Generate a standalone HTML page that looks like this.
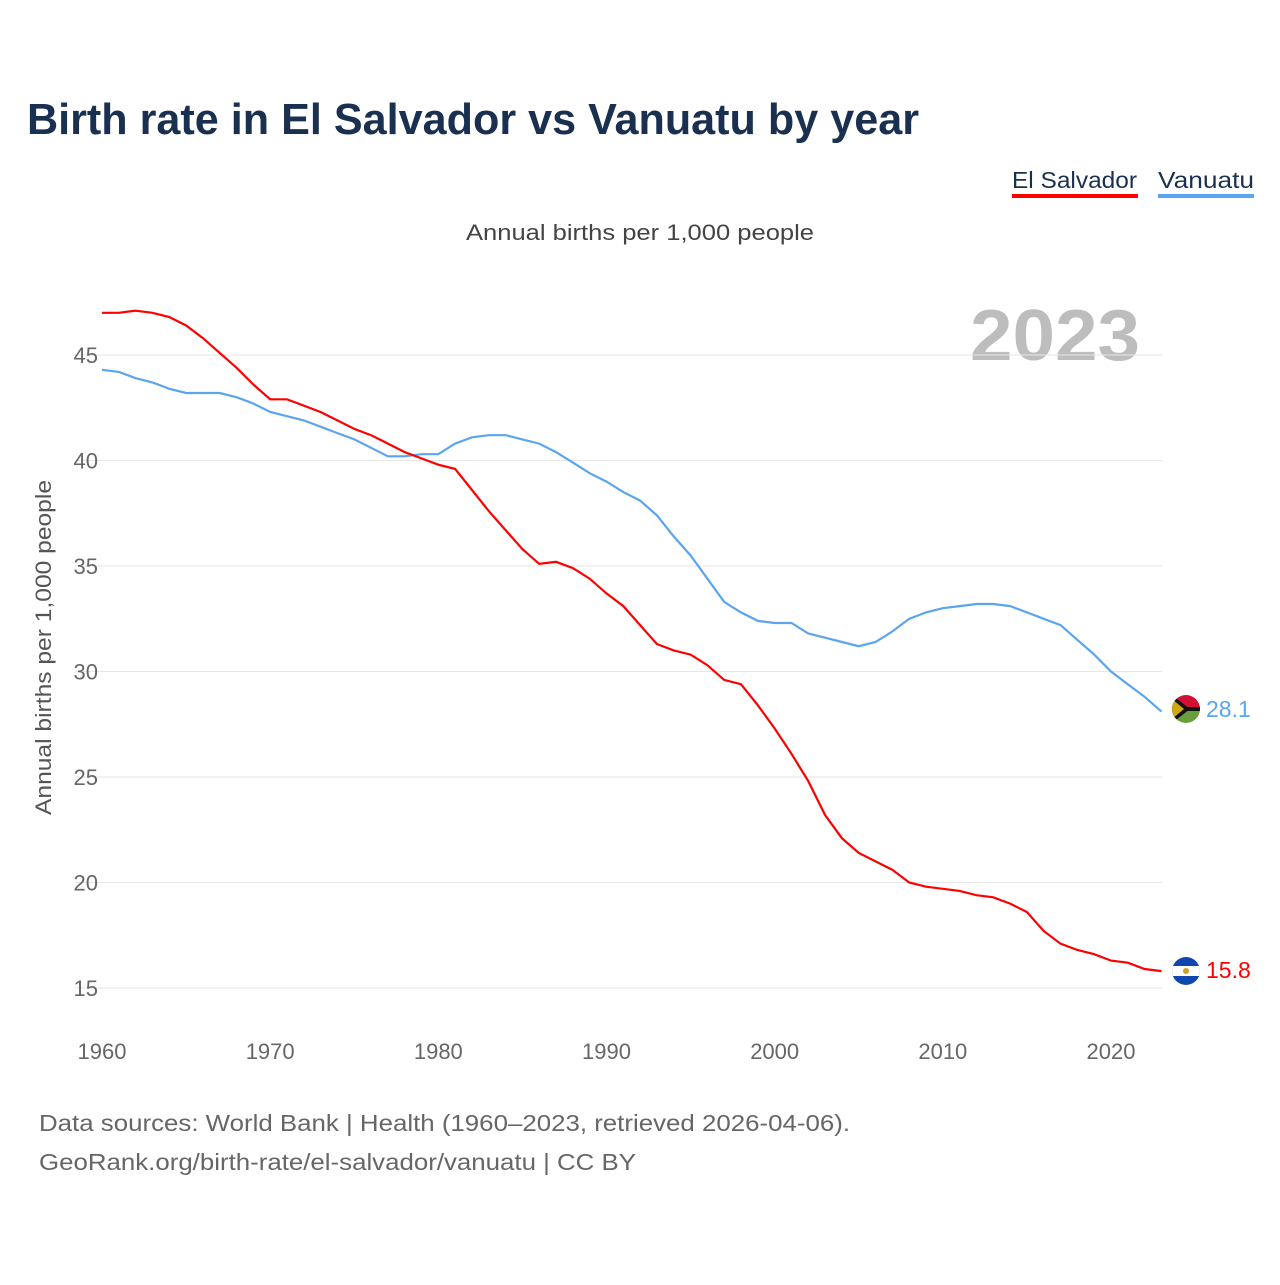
<!DOCTYPE html>
<html><head><meta charset="utf-8">
<style>
body{margin:0;background:#fff;font-family:"Liberation Sans",sans-serif;}
#wrap{position:relative;width:1280px;height:1280px;}
svg text{font-family:"Liberation Sans",sans-serif;}
</style></head>
<body>
<div id="wrap">
<svg id="chart" width="1280" height="1280">
<text x="27" y="134" font-size="44" font-weight="bold" fill="#1a3050" textLength="892" lengthAdjust="spacingAndGlyphs">Birth rate in El Salvador vs Vanuatu by year</text>
<g>
<text x="1012" y="188" font-size="23" fill="#1a3050" textLength="125" lengthAdjust="spacingAndGlyphs">El Salvador</text>
<rect x="1012" y="194" width="126" height="4" fill="#ff0000"/></g>
<g>
<text x="1158" y="188" font-size="23" fill="#1a3050" textLength="96" lengthAdjust="spacingAndGlyphs">Vanuatu</text>
<rect x="1158" y="194" width="96" height="4" fill="#5aa5ee"/></g>
<text x="466" y="240" font-size="22" fill="#444" textLength="348" lengthAdjust="spacingAndGlyphs">Annual births per 1,000 people</text>
<text x="1140" y="360" font-size="72" font-weight="bold" fill="#bdbdbd" text-anchor="end" textLength="170" lengthAdjust="spacingAndGlyphs">2023</text>
<text transform="translate(51,815) rotate(-90)" font-size="22" fill="#555" textLength="335" lengthAdjust="spacingAndGlyphs">Annual births per 1,000 people</text>
<g id="grid"></g><g id="xt"></g><g id="lines"></g>
<g>
<clipPath id="c1"><circle cx="1186" cy="709" r="14"/></clipPath>
<g clip-path="url(#c1)"><rect x="1172" y="695" width="28" height="14" fill="#d21034"/><rect x="1172" y="709" width="28" height="14" fill="#6a9e3c"/><rect x="1172" y="707" width="28" height="4" fill="#111"/><polygon points="1172,695 1190,709 1172,723" fill="#111"/><polygon points="1172,699 1184,709 1172,719" fill="#fdce12" opacity="0.8"/></g></g>
<g>
<clipPath id="c2"><circle cx="1186" cy="971" r="14"/></clipPath>
<g clip-path="url(#c2)"><rect x="1172" y="957" width="28" height="28" fill="#0f47af"/><rect x="1172" y="966" width="28" height="10" fill="#fff"/><circle cx="1186" cy="971" r="3" fill="#c9a227"/></g></g>
<text x="1206" y="717" font-size="23" fill="#5aa5ee">28.1</text>
<text x="1206" y="978" font-size="23" fill="#ff0000">15.8</text>
<text x="39" y="1131" font-size="23" fill="#666" textLength="811" lengthAdjust="spacingAndGlyphs">Data sources: World Bank | Health (1960–2023, retrieved 2026-04-06).</text>
<text x="39" y="1170" font-size="23" fill="#666" textLength="597" lengthAdjust="spacingAndGlyphs">GeoRank.org/birth-rate/el-salvador/vanuatu | CC BY</text>
</svg></div>
<script>
const years=[];for(let y=1960;y<=2023;y++)years.push(y);
const elSalvador=[47.0,47.0,47.1,47.0,46.8,46.4,45.8,45.1,44.4,43.6,42.9,42.9,42.6,42.3,41.9,41.5,41.2,40.8,40.4,40.1,39.8,39.6,38.6,37.6,36.7,35.8,35.1,35.2,34.9,34.4,33.7,33.1,32.2,31.3,31.0,30.8,30.3,29.6,29.4,28.4,27.3,26.1,24.8,23.2,22.1,21.4,21.0,20.6,20.0,19.8,19.7,19.6,19.4,19.3,19.0,18.6,17.7,17.1,16.8,16.6,16.3,16.2,15.9,15.8];
const vanuatu=[44.3,44.2,43.9,43.7,43.4,43.2,43.2,43.2,43.0,42.7,42.3,42.1,41.9,41.6,41.3,41.0,40.6,40.2,40.2,40.3,40.3,40.8,41.1,41.2,41.2,41.0,40.8,40.4,39.9,39.4,39.0,38.5,38.1,37.4,36.4,35.5,34.4,33.3,32.8,32.4,32.3,32.3,31.8,31.6,31.4,31.2,31.4,31.9,32.5,32.8,33.0,33.1,33.2,33.2,33.1,32.8,32.5,32.2,31.5,30.8,30.0,29.4,28.8,28.1];
const yTicks=[15,20,25,30,35,40,45];
const xTicks=[1960,1970,1980,1990,2000,2010,2020];
const X=y=>102+(y-1960)*(1111-102)/60;
const Y=v=>355+(45-v)*(988-355)/30;
const NS="http://www.w3.org/2000/svg";
const grid=document.getElementById('grid'),xt=document.getElementById('xt'),lines=document.getElementById('lines');
yTicks.forEach(t=>{
 const l=document.createElementNS(NS,'line');
 l.setAttribute('x1',75);l.setAttribute('x2',1162);l.setAttribute('y1',Y(t));l.setAttribute('y2',Y(t));
 l.setAttribute('stroke','#e6e6e6');
 
 
 grid.appendChild(l);
 const tx=document.createElementNS(NS,'text');
 tx.setAttribute('x',98);tx.setAttribute('y',Y(t)+8);tx.setAttribute('text-anchor','end');
 tx.setAttribute('font-size','22');tx.setAttribute('fill','#666');tx.textContent=t;
 
 
 grid.appendChild(tx);
});
xTicks.forEach(t=>{
 const tx=document.createElementNS(NS,'text');
 tx.setAttribute('x',X(t));tx.setAttribute('y',1059);tx.setAttribute('text-anchor','middle');
 tx.setAttribute('font-size','22');tx.setAttribute('fill','#666');tx.textContent=t;
 
 
 xt.appendChild(tx);
});
function line(data,color,name){
 const p=document.createElementNS(NS,'path');
 p.setAttribute('d',data.map((v,i)=>(i?'L':'M')+X(years[i]).toFixed(1)+','+Y(v).toFixed(1)).join(''));
 p.setAttribute('fill','none');p.setAttribute('stroke',color);p.setAttribute('stroke-width','2.2');
 
 
 lines.appendChild(p);
}
line(vanuatu,'#5aa5ee','vanuatu-line');
line(elSalvador,'#ff0000','el-salvador-line');
</script>
</body></html>
